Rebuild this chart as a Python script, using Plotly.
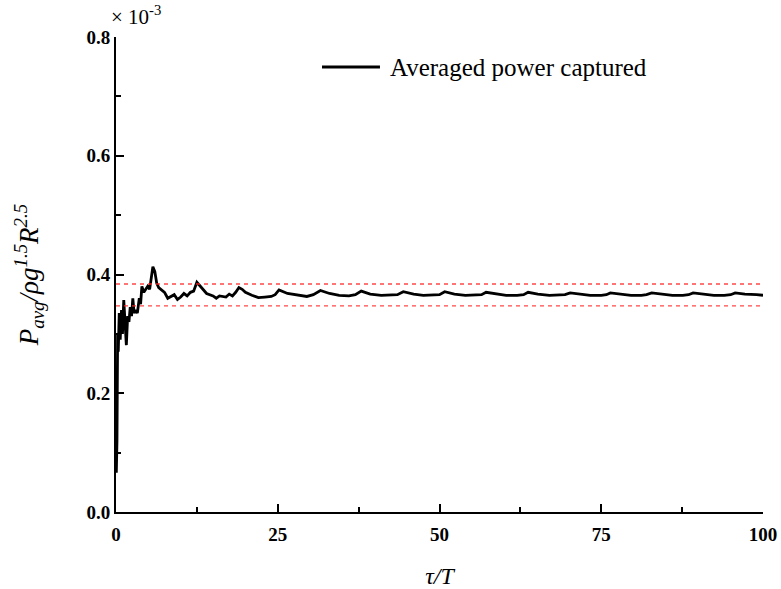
import plotly.graph_objects as go

# ---- data (power in units of 1e-3) ----
t_over_T = [0.05, 0.15, 0.25, 0.35, 0.5, 0.65, 0.85, 1.0, 1.2, 1.4, 1.6, 1.8, 2.0, 2.2, 2.4, 2.6, 2.8,
            3.0, 3.3, 3.6, 3.8, 4.0, 4.3, 4.6, 4.9, 5.2, 5.5, 5.7, 6.0, 6.3, 6.6, 7.0, 7.5, 8.0, 8.5,
            9.0, 9.5, 10.0, 10.5, 11.0, 11.5, 12.0, 12.5, 13.0, 13.5, 14.0, 15.0, 15.5, 16.0, 17.0,
            17.5, 18.0, 18.5, 19.0, 19.5, 20.0, 21.0, 22.0, 23.0, 24.0, 24.6,
            25.2, 26.5, 28.0, 29.5, 30.5, 31.6, 33.0, 34.5, 36.0, 37.0, 37.9, 39.3, 41.0, 42.5, 43.5,
            44.4, 46.0, 47.5, 49.0, 50.0, 50.8, 52.3, 54.0, 55.5, 56.5, 57.2, 58.7, 60.3, 62.0, 63.0,
            63.7, 65.2, 67.0, 68.5, 69.4, 70.2, 71.7, 73.3, 75.0, 75.8, 76.4, 78.0, 79.6, 81.2, 82.0,
            82.8, 84.3, 86.0, 87.6, 88.5, 89.2, 90.7, 92.4, 94.0, 95.0, 95.7, 97.2, 99.0, 100.0]
p_avg = [0.066, 0.12, 0.30, 0.27, 0.335, 0.29, 0.34, 0.30, 0.357, 0.31, 0.281, 0.33, 0.32, 0.345, 0.33,
         0.360, 0.335, 0.34, 0.335, 0.36, 0.35, 0.38, 0.37, 0.375, 0.38, 0.375, 0.395, 0.413, 0.405,
         0.385, 0.378, 0.375, 0.370, 0.360, 0.363, 0.366, 0.358, 0.362, 0.368, 0.364, 0.370, 0.372,
         0.387, 0.380, 0.373, 0.368, 0.364, 0.360, 0.364, 0.362, 0.367, 0.364, 0.370, 0.378, 0.375,
         0.370, 0.365, 0.361, 0.362, 0.363, 0.366,
         0.374, 0.368, 0.365, 0.363, 0.366, 0.373, 0.368, 0.365, 0.364, 0.366, 0.372, 0.367, 0.365,
         0.365, 0.366, 0.371, 0.367, 0.365, 0.365, 0.366, 0.371, 0.367, 0.365, 0.365, 0.366, 0.370,
         0.367, 0.365, 0.365, 0.366, 0.370, 0.367, 0.365, 0.365, 0.366, 0.369, 0.367, 0.365, 0.365,
         0.366, 0.369, 0.367, 0.365, 0.365, 0.366, 0.369, 0.367, 0.365, 0.365, 0.366, 0.369, 0.367,
         0.365, 0.365, 0.366, 0.369, 0.367, 0.366, 0.365]
band_upper = 0.384
band_lower = 0.347
x_ticks = [0, 25, 50, 75, 100]
y_ticks = [0.0, 0.2, 0.4, 0.6, 0.8]
y_tick_labels = ["0.0", "0.2", "0.4", "0.6", "0.8"]
series_name = "Averaged power captured"

FONT = "Liberation Serif, Times New Roman, serif"

fig = go.Figure()
fig.add_trace(go.Scatter(x=t_over_T, y=p_avg, mode="lines", name=series_name,
                         line=dict(color="black", width=2.8), showlegend=False))

for yv in (band_upper, band_lower):
    fig.add_shape(type="line", xref="x", yref="y", x0=0, x1=100, y0=yv, y1=yv,
                  line=dict(color="rgba(255,40,40,0.85)", width=1.3, dash="4px,4px"))

axis_common = dict(showline=True, linecolor="black", linewidth=2, ticks="inside", ticklen=8,
                   tickwidth=2, tickcolor="black", showgrid=False, zeroline=False, automargin=False,
                   tickfont=dict(family=FONT, size=19, color="black"))

fig.update_xaxes(range=[0, 100], tickvals=x_ticks, ticktext=["<b>%d</b>" % v for v in x_ticks],
                 ticklabelstandoff=4,
                 minor=dict(tickvals=[12.5, 37.5, 62.5, 87.5], ticks="inside", ticklen=5,
                            tickwidth=2, tickcolor="black"),
                 title=dict(text="<i>τ/T</i>", font=dict(family=FONT, size=24, color="black"),
                            standoff=24),
                 **axis_common)
fig.update_yaxes(range=[0, 0.8], tickvals=y_ticks, ticktext=["<b>%s</b>" % s for s in y_tick_labels],
                 minor=dict(tickvals=[0.1, 0.3, 0.5, 0.7], ticks="inside", ticklen=5,
                            tickwidth=2, tickcolor="black"),
                 title=dict(text="<i>P</i><sub><i>avg</i></sub><i>/ρg</i><sup><i>1.5</i></sup><i>R</i><sup><i>2.5</i></sup>",
                            font=dict(family=FONT, size=27, color="black"), standoff=40),
                 **axis_common)

fig.add_annotation(xref="paper", yref="paper", x=-0.011, y=1.0, xanchor="left", yanchor="bottom",
                   yshift=6, showarrow=False, text="× 10<sup>-3</sup>",
                   font=dict(family=FONT, size=21, color="black"))

# legend drawn as sample line + label
fig.add_shape(type="line", xref="paper", yref="paper", x0=0.3184, x1=0.408, y0=0.9368, y1=0.9368,
              line=dict(color="black", width=2.8))
fig.add_annotation(xref="paper", yref="paper", x=0.4204, y=0.9368, xanchor="left", yanchor="middle",
                   showarrow=False, text=series_name,
                   font=dict(family=FONT, size=25, color="black"))

fig.update_layout(width=781, height=589, margin=dict(l=116, r=18, t=37, b=77),
                  plot_bgcolor="white", paper_bgcolor="white", showlegend=False)

fig.write_html("out.html")
